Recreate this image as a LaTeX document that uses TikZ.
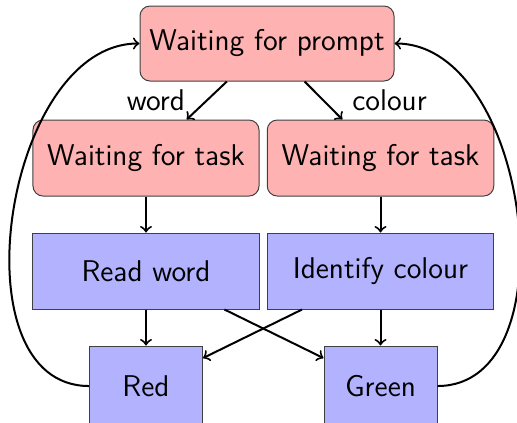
\documentclass[tikz,border=0pt]{standalone}
\renewcommand{\familydefault}{\sfdefault}
\newcommand{\diagfont}{\sffamily\fontsize{12}{14.4}\selectfont}
\begin{document}
\begin{tikzpicture}[x=0.4pt,y=-0.4pt,
  statebox/.style={draw=black!75, fill=red!30, rounded corners=4pt, minimum height=30.4pt, inner sep=0pt, font=\diagfont},
  actbox/.style={draw=black!75, fill=blue!30, minimum height=30.4pt, inner sep=0pt, font=\diagfont},
  arr/.style={->, thick, black},
  lbl/.style={font=\diagfont}]
\useasboundingbox (0,0) rectangle (517,422);
\node[statebox, minimum width=101.6pt, minimum height=30pt] (prompt) at (267,43.5) {Waiting for prompt};
\node[statebox, minimum width=90.4pt] (taskL) at (146,158) {Waiting for task};
\node[statebox, minimum width=90.6pt] (taskR) at (380.5,158) {Waiting for task};
\node[actbox, minimum width=90.4pt] (read) at (146,271) {Read word};
\node[actbox, minimum width=90.6pt] (ident) at (380.5,271) {Identify colour};
\node[actbox, minimum width=45.2pt, minimum height=32pt] (red) at (146,386) {Red};
\node[actbox, minimum width=45.2pt, minimum height=32pt] (green) at (380.5,386) {Green};
\draw[arr] (prompt) -- node[lbl, midway, left=5pt] {word} (taskL);
\draw[arr] (prompt) -- node[lbl, midway, right=7.8pt] {colour} (taskR);
\draw[arr] (taskL) -- (read);
\draw[arr] (taskR) -- (ident);
\draw[arr] (read) -- (red);
\draw[arr] (read) -- (green);
\draw[arr] (ident) -- (red);
\draw[arr] (ident) -- (green);
\draw[arr] (red.west) to[out=180, in=180] (prompt.west);
\draw[arr] (green.east) to[out=0, in=0] (prompt.east);
\end{tikzpicture}
\end{document}
